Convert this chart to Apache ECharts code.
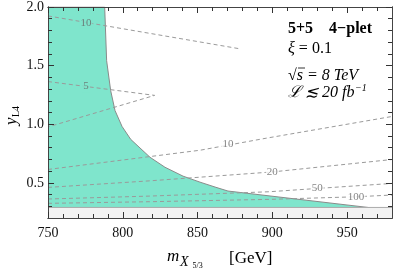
<!DOCTYPE html>
<html><head><meta charset="utf-8">
<script src="https://cdn.jsdelivr.net/npm/echarts@6/dist/echarts.min.js"></script>
<style>html,body{margin:0;padding:0;background:#fff}#c{width:393px;height:270px}</style>
</head><body><div id="c"></div>
<script>
// ---- axis ranges & ticks ----
const xMin = 750, xMax = 980;
const yMin = 0.2, yMax = 2.0;
const xTickLabels = [750, 800, 850, 900, 950];
const xMinorTicks = [760, 770, 780, 790, 810, 820, 830, 840, 860, 870, 880, 890, 910, 920, 930, 940, 960, 970];
const yTickLabels = [0.5, 1.0, 1.5, 2.0];
const yMinorTicks = [0.3, 0.4, 0.6, 0.7, 0.8, 0.9, 1.1, 1.2, 1.3, 1.4, 1.6, 1.7, 1.8, 1.9];

// ---- excluded (green) region boundary ----
const exclX = [750, 787.9, 789.2, 791.9, 794.8, 799.5, 805.3, 818.2, 828.2, 840.3, 851.6, 861.7, 870.3, 965.3];
const exclY = [2.0, 2.0, 1.542, 1.287, 1.117, 0.981, 0.871, 0.718, 0.633, 0.557, 0.506, 0.464, 0.430, 0.288];

// ---- grey band at bottom ----
const bandY = 0.29;

// ---- dashed contours ----
const c10aX = [750, 878];
const c10aY = [1.924, 1.644];
const c5X = [750, 821.3, 750];
const c5Y = [1.364, 1.246, 0.977];
const c10bX = [750, 851.6, 895.1, 980];
const c10bY = [0.614, 0.778, 0.879, 1.066];
const c20X = [750, 818, 900, 980];
const c20Y = [0.461, 0.517, 0.593, 0.699];
const c50X = [750, 818, 898, 930, 980];
const c50Y = [0.362, 0.387, 0.424, 0.452, 0.495];
const c100X = [750, 818, 898, 956, 980];
const c100Y = [0.325, 0.339, 0.359, 0.381, 0.396];

// ---- contour labels ----
const labelText = ['10', '5', '10', '20', '50', '100'];
const labelX = [775.4, 775.4, 870.3, 900, 930, 956];
const labelY = [1.866, 1.321, 0.829, 0.593, 0.452, 0.381];

const zip = (a, b) => a.map((v, i) => [v, b[i]]);
const GREEN = '#7fe5cc';
const AX = '#444';
const TICK = '#333';
const SERIF = '"Liberation Serif", "DejaVu Serif", serif';

function boundaryX(y) {
  for (let i = 1; i < exclX.length; i++) {
    const y0 = exclY[i - 1], y1 = exclY[i];
    if (y <= y0 && y >= y1 && y0 !== y1) {
      return exclX[i - 1] + (exclX[i] - exclX[i - 1]) * (y0 - y) / (y0 - y1);
    }
  }
  return xMin;
}

function xAx(pos, ticks, len, withLabels) {
  return {
    type: 'value', min: xMin, max: xMax, position: pos, z: 10,
    axisLine: { show: true, onZero: false, lineStyle: { color: AX, width: 1 } },
    axisTick: { show: true, inside: true, length: len, customValues: ticks, lineStyle: { color: TICK, width: 1 } },
    axisLabel: withLabels ? { show: true, customValues: xTickLabels, fontFamily: SERIF, fontSize: 14, color: '#111', margin: 8 } : { show: false },
    splitLine: { show: false }
  };
}
function yAx(pos, ticks, len, withLabels) {
  return {
    type: 'value', min: yMin, max: yMax, position: pos, z: 10,
    axisLine: { show: true, onZero: false, lineStyle: { color: AX, width: 1 } },
    axisTick: { show: true, inside: true, length: len, customValues: ticks, lineStyle: { color: TICK, width: 1 } },
    axisLabel: withLabels ? { show: true, customValues: yTickLabels, fontFamily: SERIF, fontSize: 14, color: '#111', margin: 4,
      formatter: v => v.toFixed(1) } : { show: false },
    splitLine: { show: false }
  };
}

const dashed = { color: '#9a9a9a', width: 1, type: [4, 3] };
function contour(xs, ys) {
  return { type: 'line', data: zip(xs, ys), symbol: 'none', lineStyle: dashed, z: 3, silent: true };
}

const labelData = labelText.map((t, i) => ({
  value: [labelX[i], labelY[i], t],
  label: { backgroundColor: labelX[i] < boundaryX(labelY[i]) ? GREEN : '#fff' }
}));

const chart = echarts.init(document.getElementById('c'), null, { renderer: 'canvas' });
chart.setOption({
  animation: false,
  backgroundColor: '#fff',
  grid: { left: 48, top: 6, right: 1, bottom: 52, containLabel: false },
  xAxis: [
    xAx('bottom', xTickLabels, 6, true),
    xAx('bottom', xMinorTicks, 4, false),
    xAx('top', xTickLabels, 6, false),
    xAx('top', xMinorTicks, 4, false)
  ],
  yAxis: [
    yAx('left', yTickLabels, 6, true),
    yAx('left', yMinorTicks, 4, false),
    yAx('right', yTickLabels, 6, false),
    yAx('right', yMinorTicks, 4, false)
  ],
  series: [
    { type: 'line', data: zip(exclX, exclY), symbol: 'none', z: 1,
      lineStyle: { color: '#8a8a8a', width: 1 },
      areaStyle: { color: GREEN, opacity: 1, origin: 'start' } },
    { type: 'line', data: [[xMin, bandY], [xMax, bandY]], symbol: 'none', z: 2,
      lineStyle: { color: '#aaa', width: 1 },
      areaStyle: { color: '#f2f2f2', opacity: 1, origin: 'start' } },
    contour(c10aX, c10aY),
    contour(c5X, c5Y),
    contour(c10bX, c10bY),
    contour(c20X, c20Y),
    contour(c50X, c50Y),
    contour(c100X, c100Y),
    { type: 'scatter', data: labelData, symbolSize: 1, itemStyle: { color: 'rgba(0,0,0,0)' }, z: 4,
      label: { show: true, position: 'inside', formatter: p => p.value[2], fontFamily: SERIF, fontSize: 11,
        color: '#666', padding: [0, 1] } }
  ],
  graphic: [
    { type: 'text', x: 288, y: 29, style: { text: '5+5    4\u2212plet', font: 'bold 16px ' + SERIF, fill: '#000', verticalAlign: 'middle' } },
    { type: 'text', x: 288, y: 49, style: { text: '{i|\u03be} = 0.1', font: '16px ' + SERIF, fill: '#000', verticalAlign: 'middle',
      rich: { i: { font: 'italic 16px ' + SERIF, fill: '#000' } } } },
    { type: 'text', x: 288, y: 76, style: { text: '\u221as = 8 TeV', font: 'italic 16px ' + SERIF, fill: '#000', verticalAlign: 'middle' } },
    { type: 'line', shape: { x1: 298, y1: 68, x2: 305, y2: 68 }, style: { stroke: '#000', lineWidth: 0.8 } },
    { type: 'text', x: 288, y: 93, style: { text: '\u2112 \u2272 20 fb', font: 'italic 16px ' + SERIF, fill: '#000', verticalAlign: 'middle' } },
    { type: 'text', x: 355, y: 88, style: { text: '\u22121', font: 'italic 10px ' + SERIF, fill: '#000', verticalAlign: 'middle' } },
    // x axis name
    { type: 'text', x: 167, y: 257, style: { text: 'm', font: 'italic 17px ' + SERIF, fill: '#000', verticalAlign: 'middle' } },
    { type: 'text', x: 180, y: 262, style: { text: 'X', font: 'italic 14px ' + SERIF, fill: '#000', verticalAlign: 'middle' } },
    { type: 'text', x: 192.5, y: 266, style: { text: '5/3', font: '8px ' + SERIF, fill: '#000', verticalAlign: 'middle' } },
    { type: 'text', x: 229, y: 259, style: { text: '[GeV]', font: '17px ' + SERIF, fill: '#000', verticalAlign: 'middle' } },
    // y axis name
    { type: 'group', x: 12, y: 114, rotation: Math.PI / 2, children: [
      { type: 'text', x: -11, y: 0, style: { text: 'y', font: 'italic 17px ' + SERIF, fill: '#000', verticalAlign: 'middle' } },
      { type: 'text', x: -3, y: 4, style: { text: 'L4', font: '10px ' + SERIF, fill: '#000', verticalAlign: 'middle' } }
    ] }
  ]
});
</script>
</body></html>
